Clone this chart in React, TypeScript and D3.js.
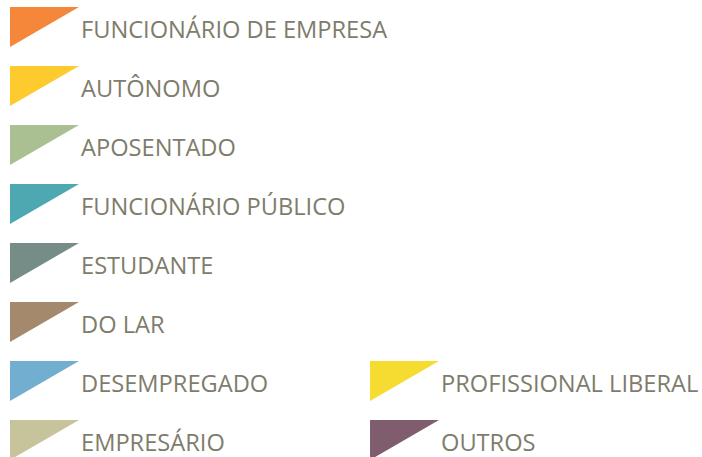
import React from 'react';
import * as d3 from 'd3';

const leftLabels = [
  'FUNCIONÁRIO DE EMPRESA',
  'AUTÔNOMO',
  'APOSENTADO',
  'FUNCIONÁRIO PÚBLICO',
  'ESTUDANTE',
  'DO LAR',
  'DESEMPREGADO',
  'EMPRESÁRIO',
];
const leftColors = ['#f5873a', '#fecb2e', '#abc092', '#4ea8b1', '#768d87', '#a5896d', '#72aecf', '#c7c49b'];

const rightLabels = ['PROFISSIONAL LIBERAL', 'OUTROS'];
const rightColors = ['#f6dc30', '#7f5c6e'];

const width = 702;
const height = 457;

const App = () => {
  const rows = d3.range(leftLabels.length);
  const y = d3.scalePoint<number>().domain(rows).range([7, 420]);
  const triW = 69;
  const triH = 40;

  // Myriad-like narrow look: squeeze Open Sans a bit horizontally
  const item = (label: string, color: string, x: number, top: number) => (
    <g key={label} transform={`translate(${x},${top})`}>
      <path d={`M0,0L${triW},0L0,${triH}Z`} fill={color} />
      <text transform="translate(71,30.5) scale(0.965,1)" fill="#7e7c6b" fontSize={24.5}
        fontFamily="'Open Sans', sans-serif">{label}</text>
    </g>
  );

  return (
    <svg width={width} height={height} style={{ position: 'absolute', left: 0, top: 0, background: '#fff' }}>
      {leftLabels.map((l, i) => item(l, leftColors[i], 10, y(i)!))}
      {rightLabels.map((l, i) => item(l, rightColors[i], 370, y(i + 6)!))}
    </svg>
  );
};

export default App;
